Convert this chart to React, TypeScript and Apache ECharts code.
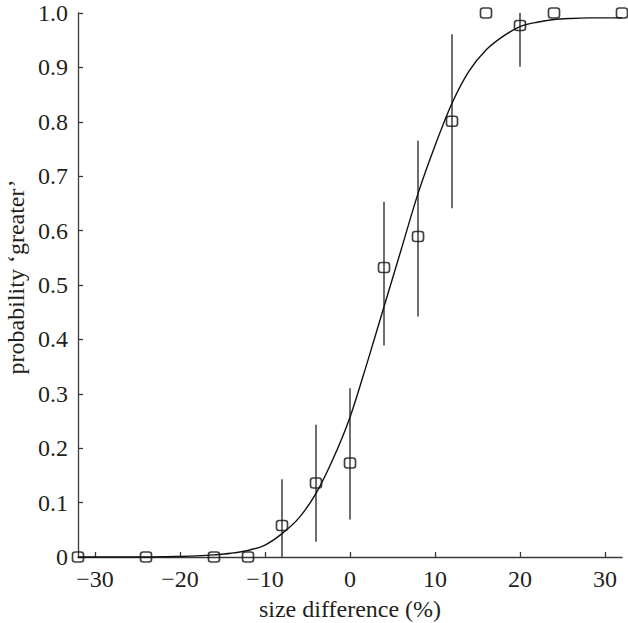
import React, { useEffect, useRef } from "react";
import * as echarts from "echarts";

const xValues = [-32, -24, -16, -12, -8, -4, 0, 4, 8, 12, 16, 20, 24, 32];
const pGreater = [0, 0, 0, 0, 0.058, 0.136, 0.173, 0.532, 0.589, 0.801, 1.0, 0.977, 1.0, 1.0];
const errLow: (number | null)[] = [null, null, null, null, 0, 0.028, 0.069, 0.389, 0.442, 0.641, null, 0.901, null, null];
const errHigh: (number | null)[] = [null, null, null, null, 0.143, 0.243, 0.31, 0.653, 0.765, 0.961, null, 1.0, null, null];

const curveX = [-32, -28, -24, -20, -18, -16, -14, -12, -10, -8, -6, -4, -2, 0, 2, 4, 6, 8, 10, 12, 14, 16, 18, 20, 22, 24, 26, 28, 30, 32];
const curveY = [0, 0, 0, 0.001, 0.002, 0.004, 0.007, 0.012, 0.022, 0.043, 0.072, 0.117, 0.18, 0.257, 0.356, 0.46, 0.564, 0.668, 0.756, 0.834, 0.893, 0.932, 0.957, 0.975, 0.983, 0.988, 0.99, 0.991, 0.991, 0.991];

const xTicks = [-30, -20, -10, 0, 10, 20, 30];
const xTickLabels = ["\u221230", "\u221220", "\u221210", "0", "10", "20", "30"];
const yTicks = [0, 0.1, 0.2, 0.3, 0.4, 0.5, 0.6, 0.7, 0.8, 0.9, 1.0];
const yTickLabels = ["0", "0.1", "0.2", "0.3", "0.4", "0.5", "0.6", "0.7", "0.8", "0.9", "1.0"];

const xTitle = "size difference (%)";
const yTitle = "probability \u2018greater\u2019";

const FONT = "Liberation Serif";
const TEXT = "#231f20";
const AXIS = "#3a3a3a";
const FS = 24;
const FONT_STR = `${FS}px "${FONT}", serif`;

export default function App() {
  const ref = useRef<HTMLDivElement>(null);

  useEffect(() => {
    if (!ref.current) return;
    const chart = echarts.init(ref.current, undefined, { renderer: "svg" });

    const errData = xValues
      .map((x, i) => [x, errLow[i], errHigh[i]])
      .filter((d) => d[1] !== null && d[2] !== null);

    chart.setOption({
      animation: false,
      backgroundColor: "#ffffff",
      grid: { left: 78, right: 6, top: 13, bottom: 66, containLabel: false },
      xAxis: {
        type: "value",
        min: -32,
        max: 32,
        splitLine: { show: false },
        axisLine: { show: true, onZero: false, lineStyle: { color: AXIS, width: 1.3 } },
        axisTick: { show: true, inside: true, length: 5, customValues: xTicks, lineStyle: { color: AXIS, width: 1.3 } },
        axisLabel: { show: false },
      },
      yAxis: {
        type: "value",
        min: 0,
        max: 1,
        interval: 0.1,
        splitLine: { show: false },
        axisLine: { show: true, onZero: false, lineStyle: { color: AXIS, width: 1.3 } },
        axisTick: { show: true, inside: true, length: 5, lineStyle: { color: AXIS, width: 1.3 } },
        axisLabel: { show: false },
      },
      series: [
        {
          type: "custom",
          clip: false,
          data: errData,
          renderItem: (params: any, api: any) => {
            const x = api.value(0);
            const p1 = api.coord([x, api.value(1)]);
            const p2 = api.coord([x, api.value(2)]);
            return {
              type: "line",
              shape: { x1: p1[0], y1: p1[1], x2: p2[0], y2: p2[1] },
              style: { stroke: "#4a4a4a", lineWidth: 1.6 },
            };
          },
          z: 2,
        },
        {
          type: "line",
          data: curveX.map((x, i) => [x, curveY[i]]),
          smooth: 0.3,
          showSymbol: false,
          symbol: "none",
          clip: false,
          lineStyle: { color: "#111111", width: 1.4 },
          z: 3,
        },
        {
          type: "scatter",
          data: xValues.map((x, i) => [x, pGreater[i]]),
          symbol: "roundRect",
          symbolSize: [11, 10],
          clip: false,
          itemStyle: { color: "rgba(0,0,0,0)", borderColor: "#111111", borderWidth: 1.6 },
          z: 4,
        },
      ],
    });

    const xAxisY = chart.convertToPixel({ yAxisIndex: 0 }, 0) as number;
    const yAxisX = chart.convertToPixel({ xAxisIndex: 0 }, -32) as number;
    const yTop = chart.convertToPixel({ yAxisIndex: 0 }, 1) as number;
    const xMid = (chart.convertToPixel({ xAxisIndex: 0 }, -32) as number + (chart.convertToPixel({ xAxisIndex: 0 }, 32) as number)) / 2;

    const graphics: any[] = [];
    xTicks.forEach((v, i) => {
      graphics.push({
        type: "text",
        x: chart.convertToPixel({ xAxisIndex: 0 }, v) as number,
        y: xAxisY + 22,
        style: { text: xTickLabels[i], font: FONT_STR, fill: TEXT, align: "center", verticalAlign: "middle" },
      });
    });
    yTicks.forEach((v, i) => {
      graphics.push({
        type: "text",
        x: yAxisX - 10,
        y: chart.convertToPixel({ yAxisIndex: 0 }, v) as number,
        style: { text: yTickLabels[i], font: FONT_STR, fill: TEXT, align: "right", verticalAlign: "middle" },
      });
    });
    graphics.push({
      type: "text",
      x: 16,
      y: (yTop + xAxisY) / 2 - 8,
      rotation: Math.PI / 2,
      style: { text: yTitle, font: FONT_STR, fill: TEXT, align: "center", verticalAlign: "middle" },
    });
    graphics.push({
      type: "text",
      x: xMid,
      y: xAxisY + 52,
      style: { text: xTitle, font: FONT_STR, fill: TEXT, align: "center", verticalAlign: "middle" },
    });

    chart.setOption({ graphic: graphics });

    return () => chart.dispose();
  }, []);

  return (
    <div
      ref={ref}
      style={{ position: "fixed", left: 0, top: 0, width: 628, height: 623, background: "#fff" }}
    />
  );
}
